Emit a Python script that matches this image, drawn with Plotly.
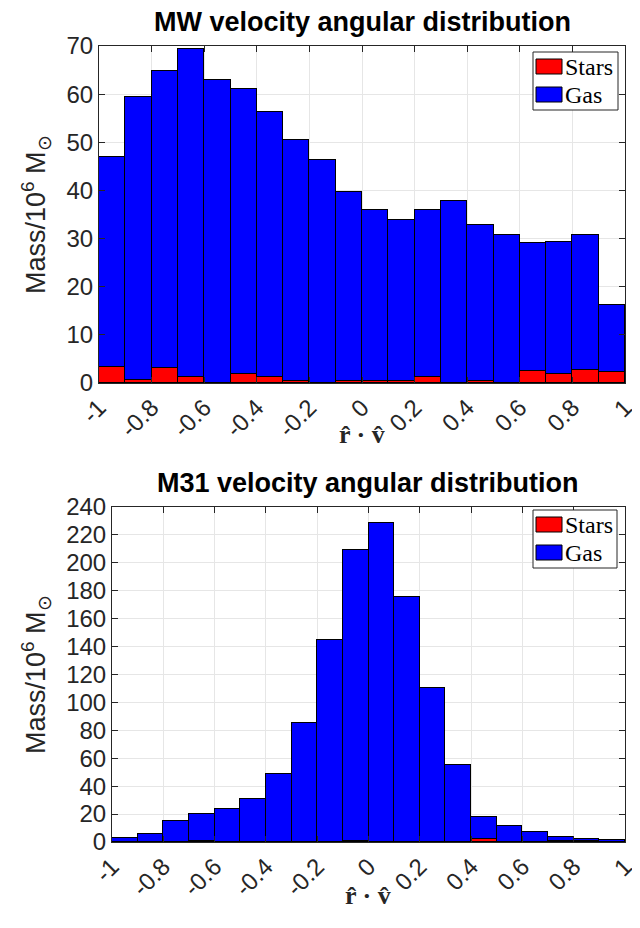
import plotly.graph_objects as go

bin_centers = [round(-0.95 + 0.1 * i, 2) for i in range(20)]
tick_vals = [-1, -0.8, -0.6, -0.4, -0.2, 0, 0.2, 0.4, 0.6, 0.8, 1]
tick_text = ["-1", "-0.8", "-0.6", "-0.4", "-0.2", "0", "0.2", "0.4", "0.6", "0.8", "1"]
series_names = ["Stars", "Gas"]
series_colors = ["#ff0000", "#0000ff"]

mw_total = [46.9, 59.4, 64.8, 69.4, 62.9, 61.1, 56.3, 50.4, 46.3, 39.7,
            35.9, 33.9, 35.9, 37.8, 32.8, 30.7, 29.0, 29.2, 30.7, 16.2]
mw_stars = [3.4, 0.6, 3.2, 1.2, 0.0, 1.9, 1.3, 0.5, 0.0, 0.5,
            0.5, 0.5, 1.3, 0.0, 0.5, 0.0, 2.4, 1.9, 2.6, 2.3]
m31_total = [2.9, 5.7, 15.0, 20.0, 23.6, 30.8, 48.7, 85.2, 144.7, 209.0,
             228.5, 175.5, 110.3, 55.2, 17.9, 11.5, 7.2, 3.6, 2.1, 1.4]
m31_stars = [0.3, 0.3, 0.3, 1.0, 0.3, 0.3, 0.3, 0.3, 0.3, 1.0,
             0.3, 0.3, 0.3, 0.3, 1.8, 0.3, 0.3, 1.0, 1.0, 0.3]

mw_gas = [t - s for t, s in zip(mw_total, mw_stars)]
m31_gas = [t - s for t, s in zip(m31_total, m31_stars)]

# page body has an 8px margin: draw a 632x920 figure and map reference pixels
OFF = 8
W, H = 640 - OFF, 928 - OFF
def px_x(p):
    return (p - OFF) / W
def px_y(p):
    return 1 - (p - OFF) / H

fig = go.Figure()
line = dict(color="black", width=1)
for xa, ya, stars, gas in (("x", "y", mw_stars, mw_gas), ("x2", "y2", m31_stars, m31_gas)):
    for name, color, vals in zip(series_names, series_colors, (stars, gas)):
        fig.add_trace(go.Bar(x=bin_centers, y=vals, width=0.1, name=name,
                             marker=dict(color=color, line=line),
                             xaxis=xa, yaxis=ya, showlegend=False))

tickfont = dict(family="Liberation Sans, Arial, sans-serif", size=24, color="#262626")
common_x = dict(range=[-1, 1], tickvals=tick_vals, ticktext=tick_text, tickangle=-45,
                ticks="inside", ticklen=6, tickcolor="#262626", showline=True,
                linecolor="#262626", linewidth=1, mirror="ticks", showgrid=True,
                gridcolor="#e6e6e6", gridwidth=1, zeroline=False, tickfont=tickfont,
                automargin=False, ticklabeloverflow="allow")
common_y = dict(ticks="inside", ticklen=6, tickcolor="#262626", showline=True,
                linecolor="#262626", linewidth=1, mirror="ticks", showgrid=True,
                gridcolor="#e6e6e6", gridwidth=1, zeroline=False, tickfont=tickfont,
                automargin=False)

fig.update_layout(
    width=W, height=H,
    margin=dict(l=0, r=0, t=0, b=0),
    paper_bgcolor="white", plot_bgcolor="white",
    barmode="stack", bargap=0, showlegend=False,
    xaxis=dict(domain=[px_x(99), px_x(625)], anchor="y", **common_x),
    yaxis=dict(domain=[px_y(383), px_y(46)], anchor="x", range=[0, 70],
               tickvals=list(range(0, 71, 10)), **common_y),
    xaxis2=dict(domain=[px_x(112), px_x(625)], anchor="y2", **common_x),
    yaxis2=dict(domain=[px_y(842), px_y(507)], anchor="x2", range=[0, 240],
                tickvals=list(range(0, 241, 20)), **common_y),
)

title_font = dict(family="Liberation Sans, Arial, sans-serif", size=27, color="black")
label_font = dict(family="Liberation Sans, Arial, sans-serif", size=27, color="#262626")
xlabel_font = dict(family="Liberation Serif, DejaVu Serif, serif", size=26, color="#262626")
legend_font = dict(family="Liberation Serif, Times New Roman, serif", size=24, color="black")

annotations = [
    dict(text="<b>MW velocity angular distribution</b>", x=px_x(362), y=px_y(22),
         font=title_font),
    dict(text="<b>M31 velocity angular distribution</b>", x=px_x(368), y=px_y(483),
         font=title_font),
    dict(text="<b>r\u0302 \u00b7 v\u0302</b>", x=px_x(362), y=px_y(434), font=xlabel_font),
    dict(text="<b>r\u0302 \u00b7 v\u0302</b>", x=px_x(368), y=px_y(895), font=xlabel_font),
    dict(text="Mass/10<sup>6</sup> M<sub>\u2299</sub>", x=px_x(36), y=px_y(215),
         textangle=-90, font=label_font),
    dict(text="Mass/10<sup>6</sup> M<sub>\u2299</sub>", x=px_x(36), y=px_y(675),
         textangle=-90, font=label_font),
]
for a in annotations:
    a.update(xref="paper", yref="paper", showarrow=False, xanchor="center", yanchor="middle")

shapes = []
# hand-built legends (box + swatches + labels) matching the reference's look
for (bx0, by0, bx1, by1) in ((533, 52, 618, 110), (533, 510, 617, 568)):
    shapes.append(dict(type="rect", xref="paper", yref="paper",
                       x0=px_x(bx0), x1=px_x(bx1), y0=px_y(by1), y1=px_y(by0),
                       fillcolor="white", line=dict(color="#262626", width=1)))
    for i, (name, color) in enumerate(zip(series_names, series_colors)):
        sy0 = by0 + 7 + i * 28
        shapes.append(dict(type="rect", xref="paper", yref="paper",
                           x0=px_x(bx0 + 3), x1=px_x(bx0 + 29),
                           y0=px_y(sy0 + 15), y1=px_y(sy0),
                           fillcolor=color, line=dict(color="black", width=1)))
        annotations.append(dict(text=name, xref="paper", yref="paper", showarrow=False,
                                x=px_x(bx0 + 30), y=px_y(sy0 + 8), xanchor="left",
                                yanchor="middle", font=legend_font))

fig.update_layout(annotations=annotations, shapes=shapes)

fig.write_html("out.html")
